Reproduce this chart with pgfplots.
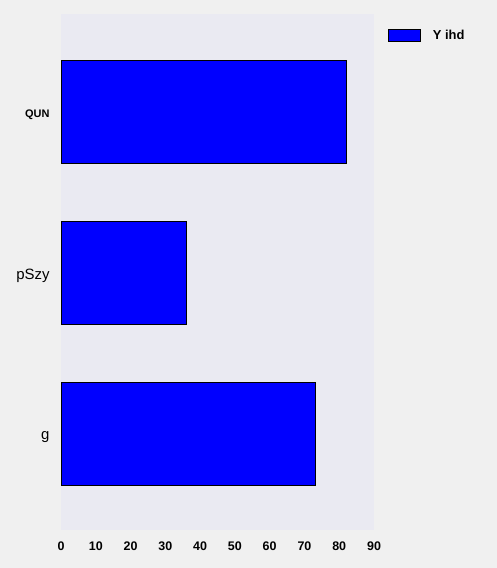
\documentclass[border=0pt]{standalone}
\usepackage{fontspec}
\setmainfont{Liberation Sans}
\usepackage{pgfplots}
\pgfplotsset{compat=1.18}
\definecolor{bgout}{HTML}{F0F0F0}
\definecolor{bgin}{HTML}{EAEAF2}
\definecolor{barblue}{HTML}{0000FF}
\begin{document}
\begin{tikzpicture}[x=1bp,y=1bp]
\fill[bgout] (0,0) rectangle (497,568);
\begin{axis}[
  at={(61bp,38bp)}, anchor=south west,
  scale only axis, width=313bp, height=516bp,
  xbar, bar width=0.64, bar shift=0pt,
  xmin=0, xmax=90, ymin=-0.6, ymax=2.61,
  axis background/.style={fill=bgin},
  axis line style={draw=none},
  major tick length=0pt,
  xtick={0,10,...,90},
  ytick={0,1,2},
  yticklabels={{\fontsize{15}{15}\selectfont g},{\fontsize{15}{15}\selectfont pSzy},{\fontsize{11}{11}\selectfont\bfseries QUN}},
  xticklabel style={font=\fontsize{12.5}{12.5}\selectfont\bfseries, yshift=-8bp},
  yticklabel style={xshift=-8bp, yshift=-3bp},
  /pgf/number format/assume math mode=true,
  legend style={at={(1.0447,0.959)}, anchor=west, draw=none, fill=none, inner sep=0pt,
    font=\fontsize{13}{13}\selectfont\bfseries, legend cell align=left},
  legend image code/.code={\draw[fill=barblue,draw=black,line width=0.6pt] (0bp,-6bp) rectangle (32bp,6bp);},
]
\addplot[fill=barblue, draw=black, line width=0.8pt] coordinates {(73.2,0) (36.1,1) (82.1,2)};
\addlegendentry{\hspace{10bp}Y ihd}
\end{axis}
\end{tikzpicture}
\end{document}
